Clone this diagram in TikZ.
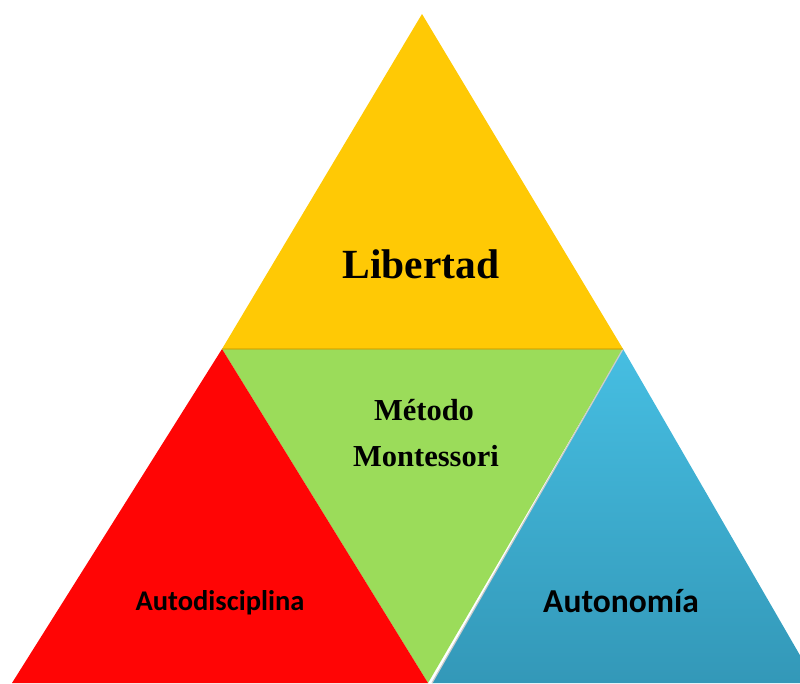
\documentclass[tikz,border=0pt]{standalone}
\usepackage{fontspec}
\setmainfont{Liberation Serif}
\newfontfamily\calib{Carlito}
\definecolor{ylw}{HTML}{FFC905}
\definecolor{grn}{HTML}{9BDC5A}
\definecolor{rd}{HTML}{FF0505}
\definecolor{bluetop}{HTML}{46BEE2}
\definecolor{bluebot}{HTML}{3398B8}
\begin{document}
\begin{tikzpicture}[x=1pt,y=-1pt,
  lbl/.style={anchor=base,text=black,inner sep=0pt}]
\useasboundingbox (0,0) rectangle (800,683);
\clip (0,0) rectangle (800,683);
% corner coordinates
\coordinate (top) at (422,14);
\coordinate (ml) at (222,349);
\coordinate (mr) at (623,349);
\coordinate (bl) at (12,683);
\coordinate (bm) at (428,683);
\coordinate (bmr) at (432,683);
\coordinate (br) at (816,683);
% triangles
\fill[grn] (ml) -- (mr) -- (bm) -- cycle;
\fill[rd] (ml) -- (bm) -- (bl) -- cycle;
\shade[top color=bluetop,bottom color=bluebot] (mr) -- (br) -- (bmr) -- cycle;
\draw[gray!40,line width=1.2pt] (mr) -- (bmr);
\fill[ylw] (top) -- (mr) -- (ml) -- cycle;
\draw[ylw!80!black,line width=1.5pt,opacity=0.5] (ml) -- (mr);
% labels
\node[lbl,font=\fontsize{41.5}{46}\selectfont\bfseries] (lib) at (421,278) {Libertad};
\node[lbl,font=\fontsize{30.5}{34}\selectfont\bfseries] (met) at (424,420) {Método};
\node[lbl,font=\fontsize{30.5}{34}\selectfont\bfseries] (mon) at (426,466) {Montessori};
\node[lbl,font=\calib\fontsize{28.5}{32}\selectfont\bfseries] (aut) at (220,610) {Autodisciplina};
\node[lbl,font=\calib\fontsize{33.5}{38}\selectfont\bfseries] (ano) at (621,612) {Autonomía};
\end{tikzpicture}
\end{document}
